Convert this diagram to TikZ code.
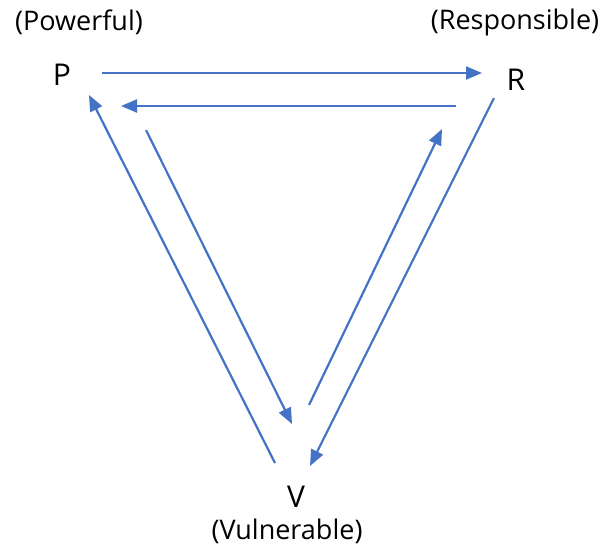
\documentclass[tikz,border=0pt]{standalone}
\usepackage{fontspec}
\setmainfont{Open Sans}
\usepackage{tikz}
\usetikzlibrary{arrows.meta, positioning, calc}
\definecolor{arrowblue}{HTML}{4472C4}

\begin{document}
\begin{tikzpicture}[
  x=1pt, y=-1pt,
  letter/.style={font=\fontsize{30}{34}\selectfont, inner sep=0pt},
  role/.style={font=\fontsize{27}{31}\selectfont, inner sep=0pt},
  arr/.style={-{Triangle[length=16pt, width=13pt]}, draw=arrowblue, line width=2.2pt},
]
\useasboundingbox (0,0) rectangle (603,547);

% Vertices and their roles
\node[letter] (p) at (62,75) {P};
\node[letter] (r) at (516,80) {R};
\node[letter] (v) at (296,497) {V};
\node[role] (pw) at (79,22) {(Powerful)};
\node[role] (rs) at (515,22) {(Responsible)};
\node[role] (vu) at (287,531) {(Vulnerable)};

% Arrow end points
\coordinate (pr1) at (102,73);
\coordinate (pr2) at (482,73);
\coordinate (rp1) at (456,106);
\coordinate (rp2) at (121,106);
\coordinate (vp1) at (275,463);
\coordinate (vp2) at (89,95);
\coordinate (pv1) at (146,130);
\coordinate (pv2) at (292,424);
\coordinate (vr1) at (309,405);
\coordinate (vr2) at (442,129);
\coordinate (rv1) at (494,98);
\coordinate (rv2) at (310,466);

% Top pair
\draw[arr] (pr1) -- (pr2);
\draw[arr] (rp1) -- (rp2);

% Left pair
\draw[arr] (vp1) -- (vp2);
\draw[arr] (pv1) -- (pv2);

% Right pair
\draw[arr] (vr1) -- (vr2);
\draw[arr] (rv1) -- (rv2);
\end{tikzpicture}
\end{document}
